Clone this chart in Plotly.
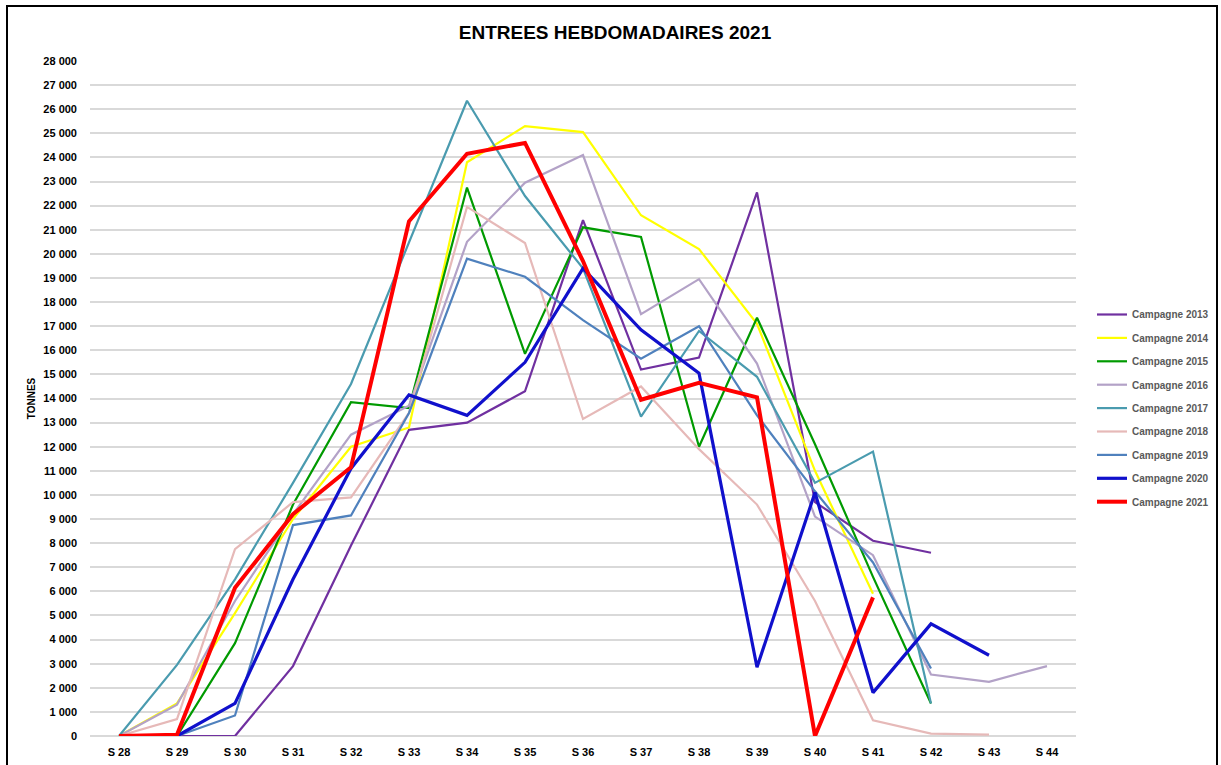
import plotly.graph_objects as go

weeks = ["S 28", "S 29", "S 30", "S 31", "S 32", "S 33", "S 34", "S 35", "S 36",
         "S 37", "S 38", "S 39", "S 40", "S 41", "S 42", "S 43", "S 44"]

c2013 = [0, 0, 0, 2900, 7900, 12700, 13000, 14300, 21400, 15200, 15700, 22550, 9700, 8100, 7600, None, None]
c2014 = [0, 1350, 5100, 9000, 12000, 12800, 23800, 25300, 25050, 21600, 20200, 17100, 11000, 5900, None, None, None]
c2015 = [0, 0, 3850, 9600, 13850, 13600, 22750, 15850, 21100, 20700, 12000, 17350, 12100, 6600, 1350, None, None]
c2016 = [0, 1300, 5600, 9200, 12500, 13700, 20500, 22950, 24100, 17500, 18950, 15450, 9100, 7500, 2550, 2250, 2900]
c2017 = [0, 2950, 6500, 10500, 14600, 20500, 26350, 22400, 19400, 13250, 16800, 14900, 10500, 11800, 1350, None, None]
c2018 = [0, 700, 7750, 9700, 9900, 13400, 21950, 20450, 13150, 14500, 11900, 9600, 5600, 650, 100, 60, None]
c2019 = [0, 0, 850, 8750, 9150, 13400, 19800, 19050, 17250, 15650, 17000, 13300, 10150, 7200, 2800, None, None]
c2020 = [0, 0, 1350, 6500, 11100, 14150, 13300, 15500, 19400, 16850, 15050, 2850, 10100, 1800, 4650, 3350, None]
c2021 = [0, 50, 6150, 9200, 11150, 21350, 24150, 24600, 19700, 13950, 14650, 14050, 0, 5750, None, None, None]

series = [
    ("Campagne 2013", c2013, "#7030A0", 2.2),
    ("Campagne 2014", c2014, "#FFFF00", 2.2),
    ("Campagne 2015", c2015, "#009A00", 2.2),
    ("Campagne 2016", c2016, "#B3A2C7", 2.2),
    ("Campagne 2017", c2017, "#4A9BAF", 2.2),
    ("Campagne 2018", c2018, "#E6B9B8", 2.2),
    ("Campagne 2019", c2019, "#4F81BD", 2.2),
    ("Campagne 2020", c2020, "#1010CC", 3.2),
    ("Campagne 2021", c2021, "#FF0000", 4.0),
]

fig = go.Figure()
for i, (name, vals, color, w) in enumerate(series):
    fig.add_trace(go.Scatter(
        x=weeks, y=vals, mode="lines", name=name,
        line=dict(color=color, width=w),
        connectgaps=False, cliponaxis=False,
        legendgroup=f"g{i}",
    ))

W, H = 1221, 765
L, R, T, B = 90, 145, 61, 29
pw, ph = W - L - R, H - T - B

def px(xp):
    return (xp - L) / pw

def py(yp):
    return (H - B - yp) / ph

fig.update_layout(
    width=W, height=H,
    margin=dict(l=L, r=R, t=T, b=B, autoexpand=False),
    paper_bgcolor="white", plot_bgcolor="white",
    separators=", ",
    title=dict(text="<b>ENTREES HEBDOMADAIRES 2021</b>",
               font=dict(family="Liberation Sans, Arial, sans-serif",
                         size=19, color="#000000"),
               x=615 / W, xref="container", xanchor="center",
               y=1 - 32 / H, yref="container", yanchor="middle"),
    font=dict(family="Liberation Sans, Arial, sans-serif", size=11, color="#000000"),
    showlegend=True,
    legend=dict(
        x=px(1092), xanchor="left", y=py(300), yanchor="top",
        font=dict(family="Liberation Sans, Arial, sans-serif", size=10, color="#595959", weight="bold"),
        traceorder="grouped", tracegroupgap=4.4,
        bgcolor="rgba(0,0,0,0)", itemwidth=30,
    ),
    xaxis=dict(
        type="category", categoryorder="array", categoryarray=weeks,
        range=[-0.5, len(weeks) - 0.5], automargin=False,
        showgrid=False, zeroline=False, showline=False, ticks="",
        tickfont=dict(size=11, color="#000000", weight="bold"),
        ticklabelstandoff=8,
    ),
    yaxis=dict(
        range=[0, 28000], dtick=1000, tickformat=",d", automargin=False,
        showgrid=True, gridcolor="#D9D9D9", gridwidth=1.5,
        zeroline=True, zerolinecolor="#D9D9D9", zerolinewidth=1.5,
        showline=False, ticks="",
        tickfont=dict(size=11, color="#000000", weight="bold"),
        ticklabelstandoff=12,
        title=dict(text="TONNES", font=dict(size=10, color="#000000", weight="bold"), standoff=5),
    ),
    shapes=[dict(
        type="path", xref="paper", yref="paper",
        path=f"M {px(7)},{py(770)} L {px(7)},{py(6)} L {px(1217)},{py(6)} L {px(1217)},{py(770)}",
        line=dict(color="#000000", width=2),
    )],
)

fig.write_html("out.html", config={"displayModeBar": False},
               post_script="document.body.style.margin='0';document.body.style.overflow='hidden';")
